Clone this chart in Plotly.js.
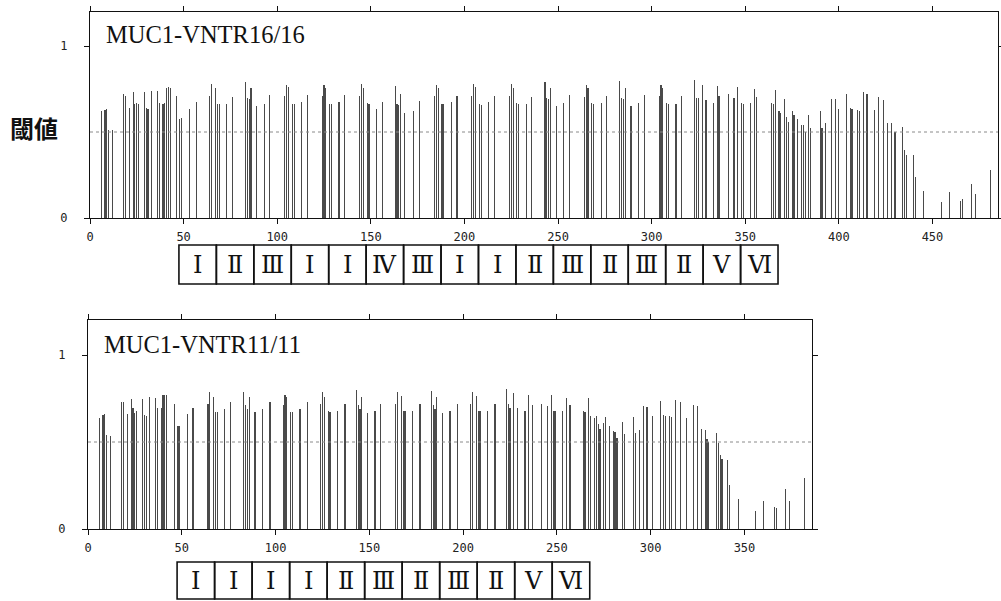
<!DOCTYPE html>
<html>
<head>
<meta charset="utf-8">
<script src="https://cdn.plot.ly/plotly-3.0.1.min.js"></script>
<style>html,body{margin:0;padding:0;background:#fff;}#chart{width:1001px;height:601px;}</style>
</head>
<body>
<div id="chart"></div>
<script>
// ---- Data ----
const topTitle = 'MUC1-VNTR16/16';
const botTitle = 'MUC1-VNTR11/11';
const yLabel = '閾値';
const threshold = 0.5;

const topPos = [6,8,9,10,12,18,19,21,23,24,25,26,29,30,31,33,36,37,39,40,41,42,43,46,48,49,53,57,
  64,65,67,68,69,73,76,
  83,84,85,86,89,93,96,
  104,105,106,108,109,113,116,
  124,125,126,128,129,133,136,
  144,145,146,148,149,153,156,
  163,164,165,166,168,173,176,
  184,185,186,188,189,193,196,
  204,205,206,208,209,213,216,
  224,225,226,228,229,233,236,
  243,244,245,246,249,253,256,
  264,265,266,268,269,273,276,
  283,284,285,286,289,293,296,
  304,305,306,308,309,313,316,
  323,324,325,327,329,333,335,336,
  341,344,346,348,349,353,355,356,
  364,365,366,368,369,371,372,373,375,376,378,380,381,382,384,385,
  390,391,393,396,398,400,404,406,407,410,411,413,415,419,421,424,426,428,430,
  434,435,436,440,441,445,455,459,465,466,471,473,481];
const topVal = [0.62,0.63,0.635,0.51,0.51,0.72,0.71,0.64,0.735,0.66,0.67,0.66,0.735,0.64,0.635,0.74,0.74,0.67,0.66,0.67,0.755,0.76,0.755,0.71,0.575,0.58,0.635,0.675,
  0.71,0.78,0.755,0.66,0.66,0.66,0.705,
  0.79,0.70,0.69,0.755,0.65,0.665,0.715,
  0.71,0.775,0.76,0.66,0.66,0.675,0.715,
  0.71,0.775,0.757,0.665,0.66,0.676,0.715,
  0.71,0.777,0.757,0.667,0.662,0.634,0.676,
  0.767,0.66,0.655,0.72,0.61,0.62,0.68,
  0.709,0.773,0.757,0.661,0.66,0.672,0.711,
  0.709,0.777,0.759,0.661,0.658,0.672,0.712,
  0.709,0.777,0.755,0.667,0.665,0.661,0.706,
  0.792,0.70,0.69,0.755,0.651,0.667,0.715,
  0.706,0.773,0.755,0.667,0.66,0.667,0.709,
  0.796,0.70,0.69,0.757,0.653,0.67,0.715,
  0.709,0.773,0.755,0.667,0.662,0.663,0.709,
  0.802,0.70,0.695,0.773,0.684,0.67,0.767,0.709,
  0.72,0.695,0.763,0.667,0.665,0.667,0.752,0.701,
  0.667,0.665,0.746,0.62,0.612,0.69,0.589,0.556,0.62,0.60,0.573,0.541,0.541,0.498,0.598,0.525,
  0.62,0.525,0.55,0.69,0.69,0.634,0.72,0.637,0.635,0.628,0.625,0.73,0.72,0.628,0.706,0.686,0.554,0.554,0.502,
  0.529,0.395,0.369,0.369,0.24,0.157,0.091,0.149,0.099,0.109,0.198,0.142,0.279];

const botPos = [6,8,9,10,12,18,19,21,23,24,25,26,29,30,31,33,36,37,39,40,41,42,46,48,49,53,56,
  64,65,67,68,69,73,76,
  83,84,85,86,89,93,97,
  104,105,106,108,109,113,117,
  124,125,126,128,129,133,137,
  143,144,145,146,149,153,156,
  164,165,167,168,169,173,177,
  183,184,185,186,189,193,197,
  204,205,207,208,209,213,217,
  223,224,225,227,229,233,235,237,
  242,245,247,248,249,253,255,257,
  264,265,267,268,270,271,272,273,275,276,278,280,281,282,285,286,
  291,292,294,296,298,301,305,307,308,310,311,313,316,319,323,325,327,329,330,331,
  335,336,337,338,341,342,347,356,360,366,367,372,374,382];
const botVal = [0.64,0.655,0.66,0.54,0.537,0.732,0.73,0.661,0.745,0.694,0.665,0.68,0.745,0.655,0.65,0.757,0.755,0.694,0.694,0.77,0.77,0.773,0.716,0.594,0.59,0.661,0.694,
  0.716,0.785,0.76,0.674,0.67,0.69,0.728,
  0.785,0.71,0.69,0.757,0.674,0.69,0.732,
  0.71,0.77,0.757,0.674,0.67,0.69,0.728,
  0.716,0.785,0.757,0.676,0.672,0.68,0.72,
  0.799,0.71,0.69,0.757,0.665,0.68,0.72,
  0.716,0.785,0.766,0.68,0.676,0.68,0.72,
  0.795,0.71,0.69,0.76,0.665,0.68,0.72,
  0.716,0.785,0.766,0.68,0.676,0.68,0.72,
  0.803,0.716,0.694,0.78,0.694,0.68,0.773,0.71,
  0.72,0.709,0.77,0.68,0.676,0.68,0.754,0.71,
  0.68,0.674,0.754,0.651,0.636,0.649,0.603,0.574,0.612,0.645,0.592,0.563,0.556,0.525,0.616,0.544,
  0.641,0.553,0.569,0.707,0.703,0.651,0.736,0.655,0.652,0.649,0.646,0.741,0.732,0.64,0.713,0.707,0.574,0.569,0.515,0.502,
  0.55,0.492,0.425,0.40,0.397,0.253,0.17,0.103,0.16,0.124,0.12,0.228,0.16,0.295];

const topRepeats = ['Ⅰ','Ⅱ','Ⅲ','Ⅰ','Ⅰ','Ⅳ','Ⅲ','Ⅰ','Ⅰ','Ⅱ','Ⅲ','Ⅱ','Ⅲ','Ⅱ','Ⅴ','Ⅵ'];
const botRepeats = ['Ⅰ','Ⅰ','Ⅰ','Ⅰ','Ⅱ','Ⅲ','Ⅱ','Ⅲ','Ⅱ','Ⅴ','Ⅵ'];
const repeatStart = 47.5;   // residue where the tandem repeats begin
const repeatLength = 20;    // residues per repeat

const topXTicks = [0,50,100,150,200,250,300,350,400,450];
const botXTicks = [0,50,100,150,200,250,300,350];
const yTicks = [0,1];

// ---- Layout helpers (pixels -> paper) ----
const W = 1001, H = 601;
const px = v => v / W;
const py = v => 1 - v / H;

const stemColor = '#4a4a4a';
const tickFont = {family: 'DejaVu Sans Mono, monospace', size: 12, color: '#222'};

const traces = [
  {type: 'bar', x: topPos, y: topVal, xaxis: 'x', yaxis: 'y', width: 0.6,
   marker: {color: stemColor, line: {width: 0}}, hoverinfo: 'x+y'},
  {type: 'bar', x: botPos, y: botVal, xaxis: 'x2', yaxis: 'y2', width: 0.6,
   marker: {color: stemColor, line: {width: 0}}, hoverinfo: 'x+y'}
];

function xAxis(domain, range, ticks, anchor) {
  return {domain: domain, range: range, anchor: anchor, tickvals: ticks,
    ticks: 'outside', ticklen: 5, tickwidth: 1, tickcolor: '#111',
    showline: true, linecolor: '#111', linewidth: 1, mirror: 'ticks',
    showgrid: false, zeroline: false, tickfont: tickFont, ticklabelstandoff: 3,
    fixedrange: true};
}
function yAxis(domain, anchor) {
  return {domain: domain, range: [0, 1.2], anchor: anchor, tickvals: yTicks,
    ticks: 'outside', ticklen: 5, tickwidth: 1, tickcolor: '#111',
    showline: true, linecolor: '#111', linewidth: 1, mirror: 'ticks',
    showgrid: false, zeroline: false, tickfont: tickFont, ticklabelstandoff: 14,
    fixedrange: true};
}

const shapes = [];
const annotations = [];

// threshold lines
[['x', 'y'], ['x2', 'y2']].forEach(([xa, ya]) => {
  shapes.push({type: 'line', xref: xa + ' domain', x0: 0, x1: 1, yref: ya, y0: threshold, y1: threshold,
    line: {color: '#8a8a8a', width: 1, dash: 'dot'}});
});

// repeat boxes
function addRepeats(labels, xa, top, bottom) {
  labels.forEach((lab, i) => {
    const x0 = repeatStart + i * repeatLength;
    const x1 = x0 + repeatLength;
    shapes.push({type: 'rect', xref: xa, x0: x0, x1: x1, yref: 'paper', y0: py(bottom), y1: py(top),
      line: {color: '#111', width: 1.6}, fillcolor: 'rgba(0,0,0,0)'});
    annotations.push({xref: xa, x: (x0 + x1) / 2, yref: 'paper', y: py((top + bottom) / 2),
      text: lab, showarrow: false, xanchor: 'center', yanchor: 'middle',
      font: {family: 'DejaVu Serif, Liberation Serif, serif', size: 24, color: '#111'}});
  });
}
addRepeats(topRepeats, 'x', 245, 284);
addRepeats(botRepeats, 'x2', 562, 599);

// titles and side label
annotations.push({xref: 'paper', yref: 'paper', x: px(104), y: py(35), xanchor: 'left', yanchor: 'middle',
  text: topTitle, showarrow: false, font: {family: 'Liberation Serif, Times New Roman, serif', size: 24.5, color: '#111'}});
annotations.push({xref: 'paper', yref: 'paper', x: px(102), y: py(344), xanchor: 'left', yanchor: 'middle',
  text: botTitle, showarrow: false, font: {family: 'Liberation Serif, Times New Roman, serif', size: 24.5, color: '#111'}});
annotations.push({xref: 'paper', yref: 'paper', x: px(34), y: py(127), xanchor: 'center', yanchor: 'middle',
  text: yLabel, showarrow: false, font: {family: 'Noto Sans CJK JP, sans-serif', size: 24, color: '#111', weight: 700}});

const layout = {
  width: W, height: H,
  margin: {l: 0, r: 0, t: 0, b: 0, pad: 0},
  paper_bgcolor: '#fff', plot_bgcolor: '#fff',
  showlegend: false, bargap: 0,
  xaxis: xAxis([px(90), px(998)], [0, 485], topXTicks, 'y'),
  yaxis: yAxis([py(218), py(11.6)], 'x'),
  xaxis2: xAxis([px(88), px(812)], [0, 386], botXTicks, 'y2'),
  yaxis2: yAxis([py(529), py(320.2)], 'x2'),
  shapes: shapes,
  annotations: annotations
};

Plotly.newPlot('chart', traces, layout, {displayModeBar: false, staticPlot: true});
</script>
</body>
</html>
